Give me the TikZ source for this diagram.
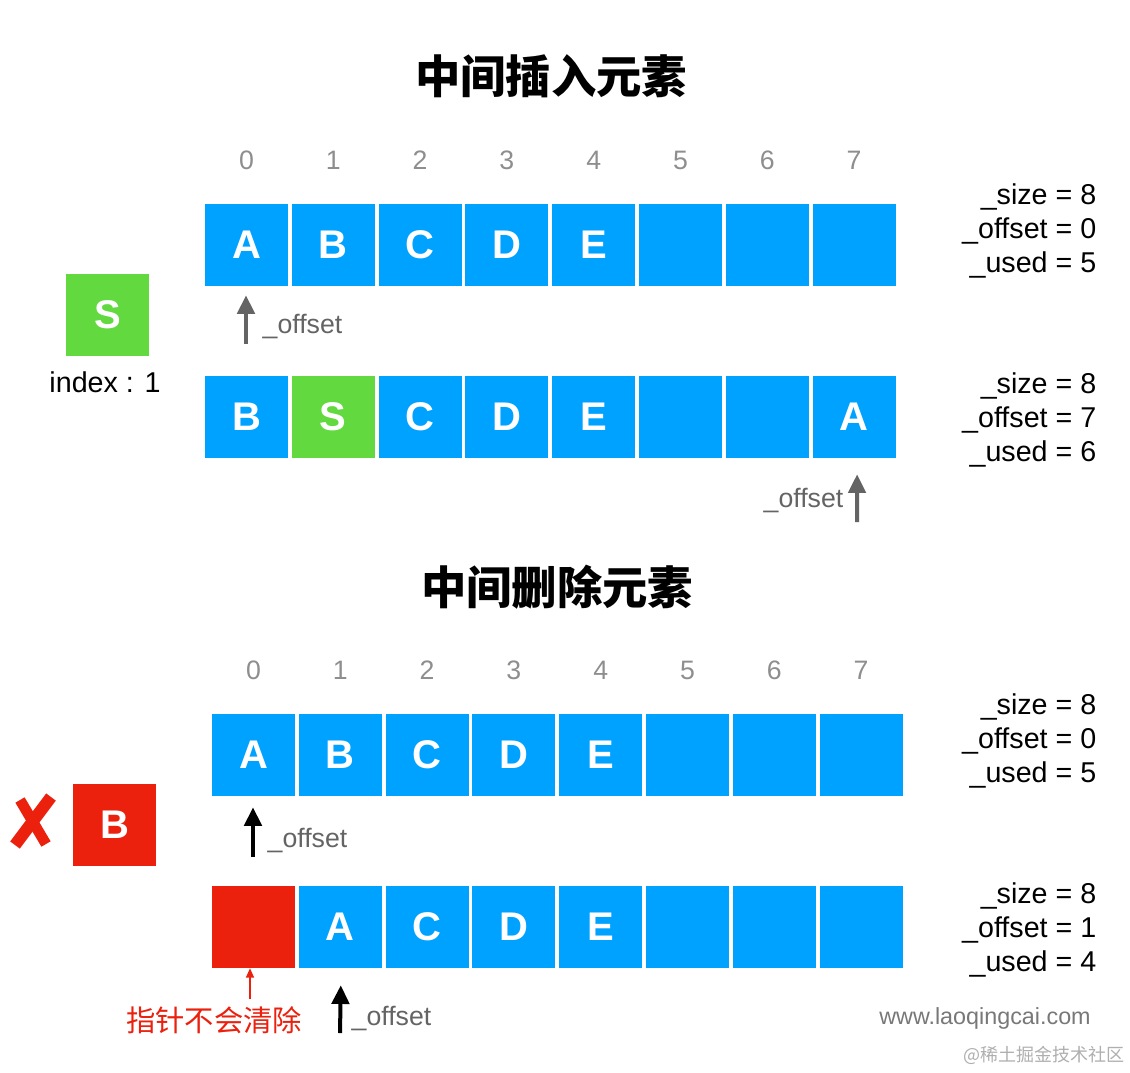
\documentclass[tikz,border=0pt]{standalone}
\usepackage{fontspec}
\setmainfont{Liberation Sans}
\setsansfont{Liberation Sans}
\newfontfamily\cjk{Noto Sans CJK SC}
\usetikzlibrary{arrows.meta,calc}
\definecolor{cblue}{RGB}{0,162,255}
\definecolor{cgreen}{RGB}{98,217,62}
\definecolor{cred}{RGB}{235,33,14}
\definecolor{cidx}{RGB}{142,142,142}
\definecolor{carrow}{RGB}{100,100,100}
\definecolor{cwm}{RGB}{120,120,120}
\definecolor{cwm2}{RGB}{175,175,175}
\tikzset{
  cell/.style={fill=cblue, minimum width=62.25pt, minimum height=61.5pt, inner sep=0pt,
     text=white, font=\bfseries\fontsize{30}{30}\selectfont},
  idx/.style={text=cidx, font=\fontsize{20}{20}\selectfont},
  stats/.style={anchor=east, align=right, font=\fontsize{21.5}{25.2}\selectfont},
  title/.style={font=\cjk\bfseries\fontsize{34}{34}\selectfont},
  offlbl/.style={text=carrow, font=\fontsize{20}{20}\selectfont},
  grayarr/.style={draw=carrow, line width=3pt, -{Triangle[width=13pt,length=14pt]}},
  blackarr/.style={draw=black, line width=3pt, -{Triangle[width=13pt,length=14pt]}},
  redarr/.style={draw=cred, line width=1.1pt, -{Triangle[width=6pt,length=7pt]}},
}
\begin{document}
\begin{tikzpicture}[x=0.75pt,y=-0.75pt]
\useasboundingbox (0,0) rectangle (1130,1072);
\fill[white] (0,0) rectangle (1130,1072);

% ---------- insertion ----------
\node[title] (t1) at (551,76) {中间插入元素};
\foreach \i in {0,...,7} \node[idx] (ia\i) at ({246.5+86.8*\i},160) {\i};
\foreach \i/\t in {0/A,1/B,2/C,3/D,4/E,5/{},6/{},7/{}}
  \node[cell] (a\i) at ({246.5+86.8*\i},245) {\t};
\node[stats] (sa) at (1101,231) {\_size = 8\\\_offset = 0\\\_used = 5};

\node[cell, fill=cgreen] (s) at (107.5,315) {S};
\node[font=\fontsize{21.5}{21.5}\selectfont] (sidx) at (105,382) {index : 1};

\coordinate (pa) at (246,344);
\draw[grayarr] (pa) -- ($(a0.south)+(-0.5,9)$);
\node[offlbl, anchor=west] (la) at (258,326) {\_offset};

\foreach \i/\t in {0/B,1/S,2/C,3/D,4/E,5/{},6/{},7/A}
  \node[cell] (b\i) at ({246.5+86.8*\i},417) {\t};
\node[cell, fill=cgreen] at (b1) {S};
\node[stats] (sb) at (1101,420) {\_size = 8\\\_offset = 7\\\_used = 6};

\coordinate (pb) at (857,522);
\draw[grayarr] (pb) -- ($(b7.south)+(3,16)$);
\node[offlbl, anchor=east] (lb) at (848,500) {\_offset};

% ---------- deletion ----------
\node[title] (t2) at (557,587) {中间删除元素};
\foreach \i in {0,...,7} \node[idx] (ic\i) at ({253.5+86.8*\i},670) {\i};
\foreach \i/\t in {0/A,1/B,2/C,3/D,4/E,5/{},6/{},7/{}}
  \node[cell] (c\i) at ({253.5+86.8*\i},755) {\t};
\node[stats] (sc) at (1101,741) {\_size = 8\\\_offset = 0\\\_used = 5};

\node[cell, fill=cred] (rb) at (114.5,825) {B};
\draw[cred, line width=9pt] (51,797) -- (15,845);
\draw[cred, line width=8pt] (20,800) -- (46,844);

\coordinate (pc) at (253,857);
\draw[blackarr] (pc) -- ($(c0.south)+(-0.5,11)$);
\node[offlbl, anchor=west] (lc) at (263,840) {\_offset};

\foreach \i/\t in {0/{},1/A,2/C,3/D,4/E,5/{},6/{},7/{}}
  \node[cell] (d\i) at ({253.5+86.8*\i},927) {\t};
\node[cell, fill=cred] at (d0) {};
\node[stats] (sd) at (1101,930) {\_size = 8\\\_offset = 1\\\_used = 4};

\coordinate (pr) at (250,999);
\draw[redarr] (pr) -- ($(d0.south)+(-3.5,0)$);
\node[text=cred, font=\cjk\fontsize{22}{22}\selectfont] (rt) at (214,1020) {指针不会清除};

\coordinate (pd) at (340,1033);
\draw[blackarr] (pd) -- ($(d1.south)+(0.5,17)$);
\node[offlbl, anchor=west] (ld) at (347,1018) {\_offset};

% ---------- watermarks ----------
\node[text=cwm, font=\fontsize{17.5}{17.5}\selectfont] (w1) at (985,1018) {www.laoqingcai.com};
\node[text=cwm2, font=\cjk\fontsize{13.5}{13.5}\selectfont] (w2) at (1044,1055) {@稀土掘金技术社区};
\end{tikzpicture}
\end{document}
